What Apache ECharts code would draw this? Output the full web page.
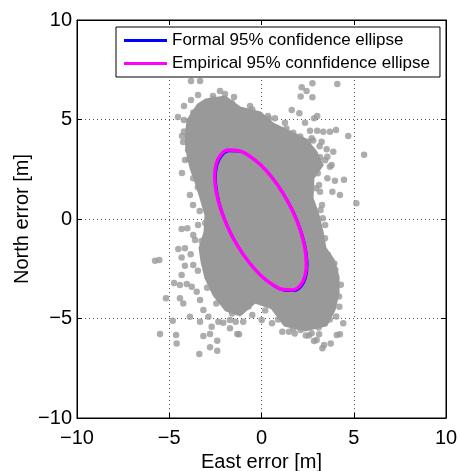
<!DOCTYPE html>
<html>
<head>
<meta charset="utf-8">
<script src="https://cdn.jsdelivr.net/npm/echarts@6/dist/echarts.min.js"></script>
<style>html,body{margin:0;padding:0;background:#fff;}#chart{width:459px;height:471px;}</style>
</head>
<body>
<div id="chart"></div>
<script>
// Axis ticks
const xTickValues = [-10, -5, 0, 5, 10];
const xTickLabels = ['\u221210', '\u22125', '0', '5', '10'];
const yTickValues = [-10, -5, 0, 5, 10];
const yTickLabels = ['\u221210', '\u22125', '0', '5', '10'];

// Legend names
const seriesNames = ['Formal 95% confidence ellipse', 'Empirical 95% connfidence ellipse'];

// Dense core of the error cloud (outline, East/North in m)
const cloudCore = [
  [-3.44,5.73],[-3.01,5.98],[-1.98,6.13],[-1.17,5.58],[-0.08,5.33],[0.62,4.77],[1.54,4.37],
  [2.41,3.97],[2.95,3.37],[3.28,2.71],[2.79,2.06],[2.74,1.06],[3.06,0.20],[3.28,-0.65],
  [3.44,-1.46],[3.88,-2.06],[4.15,-2.91],[4.15,-3.72],[3.93,-4.57],[3.50,-5.33],[2.36,-5.58],
  [1.27,-5.33],[0.57,-4.47],[-0.35,-4.17],[-1.17,-4.82],[-1.92,-4.57],[-2.57,-3.82],
  [-3.01,-2.96],[-3.22,-2.16],[-3.33,-1.46],[-3.06,-0.65],[-3.01,0.20],[-3.28,1.06],
  [-3.55,1.86],[-3.82,2.56],[-4.04,3.47],[-4.09,4.12],[-3.98,4.97]
];

// Individual error samples around the core (East, North in m)
const errorPoints = [
  [-3.82,6.93],[-3.33,6.93],[-2.25,6.43],[-2.63,6.18],[-1.98,6.28],[-1.49,6.13],[-3.44,6.23],
  [-3.82,5.98],[-4.20,5.68],[-4.53,5.13],[-4.31,4.17],[-4.25,3.87],[-3.98,3.47],[-4.31,2.31],
  [-1.06,5.38],[2.18,6.62],[2.76,6.82],[4.11,6.78],[2.44,6.43],[2.12,6.15],[2.76,6.12],
  [1.64,5.48],[2.05,5.31],[3.02,5.18],[2.85,5.06],[2.36,4.84],[0.73,5.06],[1.27,4.84],
  [0.64,4.61],[1.00,4.44],[1.72,4.34],[2.63,4.44],[3.02,4.44],[3.35,4.39],[3.71,4.39],
  [4.04,4.47],[4.70,4.17],[2.72,4.06],[3.26,3.88],[2.54,3.88],[3.53,3.50],[3.89,3.38],
  [3.17,3.10],[3.57,3.13],[3.80,2.71],[5.56,3.23],[3.98,1.92],[4.47,1.97],[4.25,1.21],
  [3.84,1.37],[5.14,0.79],[3.57,2.05],[3.71,2.63],[3.17,1.37],[3.32,0.04],[3.44,-0.97],
  [3.95,-2.23],[4.20,-3.90],[4.43,-5.24],[4.25,-5.79],[3.75,-6.25],[3.39,-6.33],[3.30,-6.50],
  [3.12,-5.79],[2.85,-6.13],[2.57,-5.86],[0.57,-5.24],[1.13,-5.66],[1.49,-5.66],[2.12,-5.58],
  [-0.50,-4.82],[-1.40,-5.16],[-1.22,-5.79],[1.72,-5.49],[2.72,-5.74],[2.99,-6.08],[4.08,-5.83],
  [-0.99,-5.16],[0.01,-5.08],[4.22,-4.41],
  [-5.54,-2.06],[-5.77,-2.10],[-4.33,-2.81],[-4.74,-3.22],[-4.42,-3.32],[-4.05,-3.27],
  [-5.18,-3.98],[-4.42,-3.98],[-4.24,-4.24],[-3.78,-3.40],[-3.51,-3.65],[-3.33,-4.07],
  [-3.15,-4.57],[-3.88,-4.91],[-4.81,-5.11],[-3.33,-5.16],[-2.88,-4.91],[-2.70,-5.41],
  [-2.34,-5.16],[-2.07,-5.21],[-5.50,-5.78],[-4.63,-5.83],[-4.60,-6.25],[-3.15,-5.88],
  [-2.79,-5.78],[-2.40,-6.12],[-2.79,-6.45],[-2.40,-6.62],[-3.37,-6.78],[-1.71,-5.49],
  [-1.31,-5.78],[-1.71,-5.08],[-4.51,-1.51],[-4.15,-1.47],[-4.33,-1.94],[-3.84,-1.77],
  [-4.15,-2.35],[-3.70,-2.31],[-4.33,-0.50],[-4.02,-0.47],[-3.88,1.21],[-3.71,0.70],
  [-3.70,-0.80],[-3.44,-0.30],[-3.60,-1.06],[-3.44,2.46],[-4.15,2.96],[-4.20,4.97],
  [-0.62,5.68],[-1.60,5.83],[0.35,5.18],[3.28,0.70],[3.12,1.71],
  [-3.45,1.60],[-3.35,0.40],[-3.25,-1.10],[-3.45,-2.60],[-2.95,-3.45],[-2.45,-4.25],
  [-1.60,-4.75],[-0.70,-4.40],[0.20,-4.60],[0.90,-5.05],[1.80,-5.75],[2.40,-5.85],
  [3.10,-5.45],[3.70,-5.05],[4.05,-4.90],[4.30,-3.30],[4.00,-2.55],[3.60,-1.80],
  [3.45,-0.30],[3.20,0.45],[2.95,1.55],[3.05,2.30],[3.45,2.95],[3.15,3.65],[2.80,3.95],
  [2.10,4.15],[1.35,4.55],[0.40,5.05],[-0.50,5.50],[-2.60,6.00],[-3.70,5.35],[-4.20,4.40],
  [-3.95,3.00],[-3.70,2.05],[-3.05,-0.20]
];

// Empirical 95% confidence ellipse (outline)
const empiricalEllipse = [
  [2.435,-2.243],[2.350,-1.450],[2.102,-0.562],[1.707,0.360],[1.193,1.254],[0.593,2.060],
  [-0.050,2.723],[-0.693,3.196],[-1.293,3.448],[-1.807,3.462],[-2.202,3.236],[-2.450,2.786],
  [-2.535,2.143],[-2.450,1.350],[-2.202,0.462],[-1.807,-0.460],[-1.293,-1.354],[-0.693,-2.160],
  [-0.050,-2.823],[0.593,-3.296],[1.193,-3.548],[1.707,-3.562],[2.102,-3.336],[2.350,-2.886],
  [2.435,-2.243],[2.350,-1.450]
];

// Formal 95% confidence ellipse (outline)
const formalEllipse = [
  [2.495,-2.303],[2.410,-1.510],[2.162,-0.622],[1.767,0.300],[1.253,1.194],[0.653,2.000],
  [0.010,2.663],[-0.633,3.136],[-1.233,3.388],[-1.747,3.402],[-2.142,3.176],[-2.390,2.726],
  [-2.475,2.083],[-2.390,1.290],[-2.142,0.402],[-1.747,-0.520],[-1.233,-1.414],[-0.633,-2.220],
  [0.010,-2.883],[0.653,-3.356],[1.253,-3.608],[1.767,-3.622],[2.162,-3.396],[2.410,-2.946],
  [2.495,-2.303],[2.410,-1.510]
];

const FONT = "'Liberation Sans', Arial, Helvetica, sans-serif";
const GRAY = '#999999';

function labelFor(values, labels) {
  return function (v) {
    const i = values.indexOf(Math.round(v));
    return i >= 0 ? labels[i] : '';
  };
}

const baseX = {
  type: 'value', min: -10, max: 10, interval: 5,
  axisLine: { show: true, onZero: false, lineStyle: { color: '#000', width: 1 } },
  axisTick: { show: true, inside: true, length: 5, lineStyle: { color: '#000' } }
};

const chart = echarts.init(document.getElementById('chart'), null, { renderer: 'canvas' });
chart.setOption({
  animation: false,
  backgroundColor: '#fff',
  textStyle: { fontFamily: FONT },
  grid: {
    left: 77, right: 13, top: 20, bottom: 53,
    containLabel: false, outerBoundsMode: 'none',
    show: true, borderColor: '#000', borderWidth: 1, backgroundColor: 'transparent'
  },
  legend: {
    data: seriesNames,
    orient: 'vertical',
    left: 116, top: 27,
    padding: [4, 10, 4, 8],
    itemGap: 4,
    itemWidth: 43, itemHeight: 3,
    icon: 'rect',
    backgroundColor: '#fff',
    borderColor: '#000', borderWidth: 1, borderRadius: 0,
    textStyle: { fontFamily: FONT, fontSize: 17, color: '#000', lineHeight: 19 }
  },
  xAxis: [
    Object.assign({}, baseX, {
      position: 'bottom',
      name: 'East error [m]', nameLocation: 'middle', nameGap: 32,
      nameTextStyle: { fontFamily: FONT, fontSize: 20, color: '#000' },
      axisLabel: { show: true, margin: 10, fontFamily: FONT, fontSize: 20, color: '#000', formatter: labelFor(xTickValues, xTickLabels) },
      splitLine: { show: true, lineStyle: { color: '#555', type: [1, 3], width: 1 } }
    }),
    Object.assign({}, baseX, {
      position: 'top', axisLabel: { show: false }, splitLine: { show: false }
    })
  ],
  yAxis: [
    Object.assign({}, baseX, {
      position: 'left',
      name: 'North error [m]', nameLocation: 'middle', nameGap: 45, nameMoveOverlap: false,
      nameTextStyle: { fontFamily: FONT, fontSize: 20, color: '#000' },
      axisLabel: { show: true, margin: 5, fontFamily: FONT, fontSize: 20, color: '#000', formatter: labelFor(yTickValues, yTickLabels) },
      splitLine: { show: true, lineStyle: { color: '#555', type: [1, 3], width: 1 } }
    }),
    Object.assign({}, baseX, {
      position: 'right', axisLabel: { show: false }, splitLine: { show: false }
    })
  ],
  series: [
    {
      type: 'custom', name: 'core', coordinateSystem: 'cartesian2d', silent: true,
      xAxisIndex: 0, yAxisIndex: 0,
      data: [[0, 0]],
      renderItem: function (params, api) {
        return {
          type: 'polygon',
          shape: { points: cloudCore.map(function (p) { return api.coord(p); }) },
          style: { fill: GRAY, stroke: GRAY, lineWidth: 3 }
        };
      }
    },
    {
      type: 'scatter', name: 'samples', xAxisIndex: 0, yAxisIndex: 0,
      data: errorPoints, symbol: 'circle', symbolSize: 6.5,
      itemStyle: { color: GRAY }, silent: true
    },
    {
      type: 'line', name: seriesNames[0], xAxisIndex: 0, yAxisIndex: 0,
      data: formalEllipse, smooth: 0.4, showSymbol: false, symbol: 'none',
      color: '#0000ff', lineStyle: { color: '#0000ff', width: 2 }
    },
    {
      type: 'line', name: seriesNames[1], xAxisIndex: 0, yAxisIndex: 0,
      data: empiricalEllipse, smooth: 0.4, showSymbol: false, symbol: 'none',
      color: '#ff00ff', lineStyle: { color: '#ff00ff', width: 3.5 }
    }
  ]
});
</script>
</body>
</html>
